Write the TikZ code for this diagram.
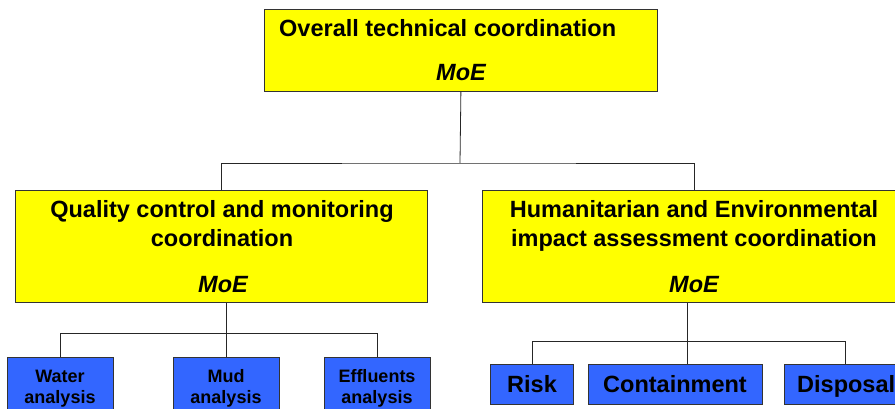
\documentclass[tikz,border=0pt]{standalone}
\usepackage{fontspec}
\setmainfont{Liberation Sans}
\definecolor{boxyellow}{RGB}{255,255,0}
\definecolor{boxblue}{RGB}{51,102,255}
\tikzset{
  ybox/.style={draw=black!80, fill=boxyellow, line width=0.8pt, anchor=north west, inner sep=0pt},
  bbox/.style={draw=black!80, fill=boxblue, line width=0.8pt, anchor=north west, inner sep=0pt},
  bigtxt/.style={font=\fontsize{23.5}{29}\selectfont\bfseries, inner sep=0pt, align=center},
  smalltxt/.style={font=\fontsize{18}{21}\selectfont\bfseries, inner sep=0pt, align=center},
  moe/.style={font=\fontsize{23.5}{29}\selectfont\bfseries\itshape, inner sep=0pt},
  link/.style={draw=black!85, line width=0.8pt}
}
\begin{document}
\begin{tikzpicture}[x=1pt, y=-1pt]
    \useasboundingbox (0,0) rectangle (895,409);
    \clip (0,0) rectangle (895,409);

    % Coordination boxes
    \node[ybox, minimum width=393pt, minimum height=82pt] (top) at (264,9) {};
    \node[ybox, minimum width=412pt, minimum height=112pt] (qc) at (15,190) {};
    \node[ybox, minimum width=424pt, minimum height=112pt] (he) at (482,190) {};

    % Task boxes
    \node[bbox, minimum width=106pt, minimum height=60pt] (water) at (7,357) {};
    \node[bbox, minimum width=106pt, minimum height=60pt] (mud) at (173,357) {};
    \node[bbox, minimum width=106pt, minimum height=60pt] (effl) at (324,357) {};
    \node[bbox, minimum width=83pt, minimum height=40pt] (risk) at (490,364) {};
    \node[bbox, minimum width=174pt, minimum height=40pt] (cont) at (588,364) {};
    \node[bbox, minimum width=122pt, minimum height=40pt] (disp) at (784,364) {};

    % Labels (base of a two-line node = its last line)
    \node[bigtxt, anchor=base west] (toptxt) at (279,37) {Overall technical coordination};
    \node[moe, anchor=base] (topmoe) at (461,81) {MoE};
    \node[bigtxt, anchor=base] (qctxt) at (222,247) {Quality control and monitoring\\coordination};
    \node[moe, anchor=base] (qcmoe) at (223,292) {MoE};
    \node[bigtxt, anchor=base] (hetxt) at (694,247) {Humanitarian and Environmental\\impact assessment coordination};
    \node[moe, anchor=base] (hemoe) at (694,292) {MoE};
    \node[smalltxt, anchor=base] (watertxt) at (60,403) {Water\\analysis};
    \node[smalltxt, anchor=base] (mudtxt) at (226,403) {Mud\\analysis};
    \node[smalltxt, anchor=base] (effltxt) at (377,403) {Effluents\\analysis};
    \node[bigtxt, anchor=base] (risktxt) at (532,392) {Risk};
    \node[bigtxt, anchor=base] (conttxt) at (675,392) {Containment};
    \node[bigtxt, anchor=base west] (disptxt) at (797,392) {Disposal};

    % Connectors
    \coordinate (topbus) at (460,163);
    \draw[link] (top.south) -- (topbus);
    \draw[link] (qc.north) |- (topbus) -| (he.north);

    \coordinate (qcbus) at (0,333);
    \draw[link] (water.north) |- (qcbus -| effl.north) -- (effl.north);
    \draw[link] (mud.north) -- (mud.north |- qc.south);

    \coordinate (hebus) at (0,341);
    \coordinate (hestem) at ([xshift=-7pt]he.south);
    \draw[link] (risk.north) |- (hebus -| disp.north) -- (disp.north);
    \draw[link] (hestem) -- (hestem |- cont.north);
\end{tikzpicture}
\end{document}
